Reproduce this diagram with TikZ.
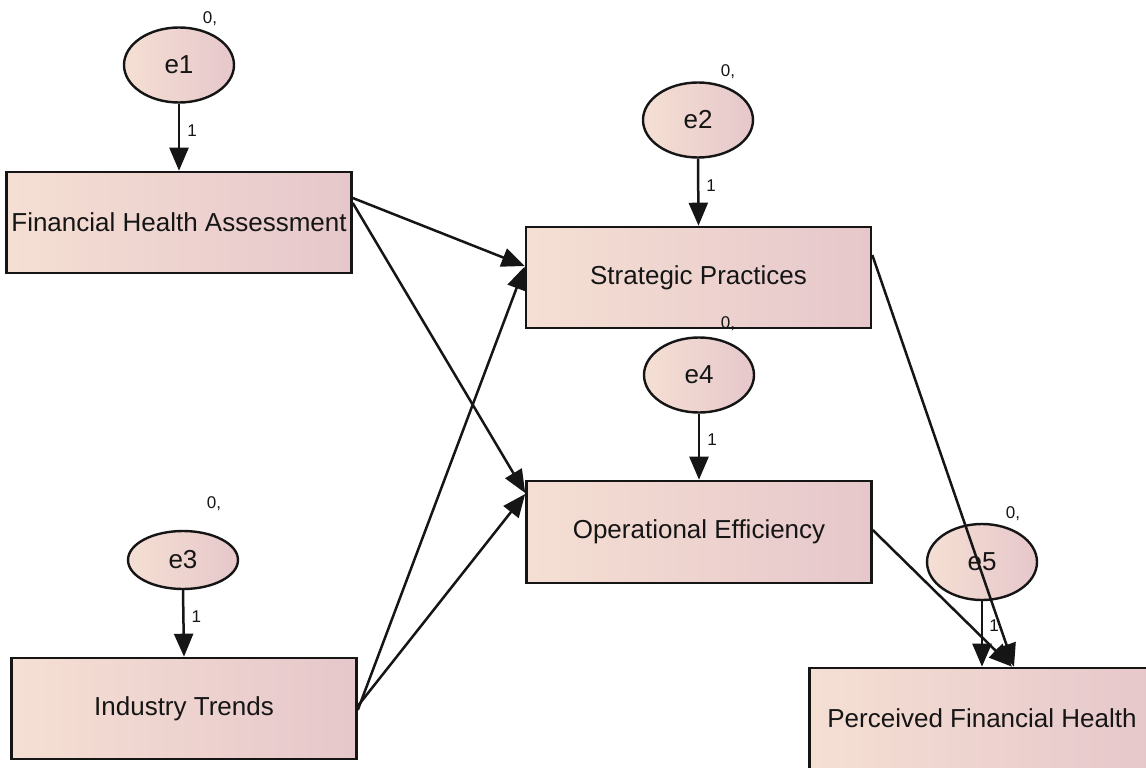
\documentclass[tikz,border=0pt]{standalone}
\usepackage{fontspec}
\setmainfont{Liberation Sans}
\usetikzlibrary{arrows.meta}
\definecolor{peach}{HTML}{F5DFD3}
\definecolor{rosy}{HTML}{E6C7CB}
\definecolor{ink}{HTML}{151515}
\tikzset{
  varbox/.style={draw=ink, line width=2.6pt, left color=peach, right color=rosy,
    minimum width=345pt, minimum height=101pt, inner sep=0pt, text=ink,
    font=\fontsize{26}{30}\selectfont},
  errnode/.style={ellipse, draw=ink, line width=2.4pt, left color=peach, right color=rosy,
    minimum width=110pt, minimum height=75pt, inner sep=0pt, text=ink,
    font=\fontsize{26}{30}\selectfont},
  smalllab/.style={text=ink, font=\fontsize{17}{19}\selectfont, inner sep=0pt},
  conn/.style={draw=ink, line width=2.5pt, -{Triangle[length=23pt,width=19pt]}},
}
\usetikzlibrary{shapes.geometric}
\begin{document}
\begin{tikzpicture}[x=1pt,y=-1pt]
\useasboundingbox (0,0) rectangle (1146,768);
\clip (0,0) rectangle (1146,768);
\fill[white] (0,0) rectangle (1146,768);

% boxes
\node[varbox] (fha) at (179,222.5) {Financial Health Assessment};
\node[varbox] (sp) at (698.5,277.5) {Strategic Practices};
\node[varbox, minimum height=102pt] (oe) at (699,532) {Operational Efficiency};
\node[varbox] (it) at (184,708.5) {Industry Trends};
\node[varbox] (pfh) at (982,718.5) {Perceived Financial Health};

% error terms
\node[errnode] (e1) at (179,65) {e1};
\node[errnode] (e2) at (698,120) {e2};
\node[errnode] (e4) at (699,375) {e4};
\node[errnode, minimum height=58pt] (e3) at (183,560) {e3};
\node[errnode, minimum height=76pt] (e5) at (982,562) {e5};

% variance labels
\node[smalllab] (v1) at (210,19) {0,};
\node[smalllab] (v2) at (728,72) {0,};
\node[smalllab] (v4) at (728,324) {0,};
\node[smalllab] (v3) at (214,504) {0,};
\node[smalllab] (v5) at (1013,514) {0,};

% error paths
\draw[conn] (e1.south) -- (fha.north) node[smalllab, pos=0.4, right=7pt] {1};
\draw[conn] (e2.south) -- (sp.north) node[smalllab, pos=0.4, right=7pt] {1};
\draw[conn] (e4.south) -- (oe.north) node[smalllab, pos=0.4, right=7pt] {1};
\draw[conn] (e3.south) -- (it.north) node[smalllab, pos=0.4, right=7pt] {1};
\draw[conn] (e5.south) -- (pfh.north) node[smalllab, pos=0.38, right=6pt] {1};

% structural paths
\draw[conn] ([yshift=24.5pt]fha.east) -- ([yshift=11.5pt]sp.west);
\draw[conn] ([yshift=19.5pt]fha.east) -- ([yshift=39pt]oe.west);
\draw[conn] ([yshift=-1.5pt]it.east) -- ([yshift=11pt]sp.west);
\draw[conn] ([yshift=2.5pt]it.east) -- ([yshift=38pt]oe.west);
\draw[conn] ([yshift=22.5pt]sp.east) -- ([xshift=32pt]pfh.north);
\draw[conn] ([yshift=2pt]oe.east) -- ([xshift=30pt]pfh.north);
\end{tikzpicture}
\end{document}
